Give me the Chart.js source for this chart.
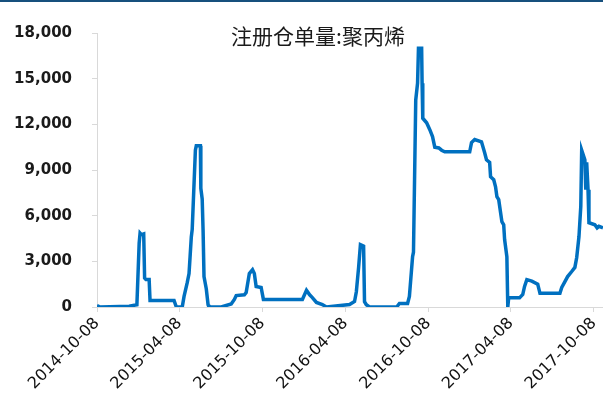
<!DOCTYPE html>
<html>
<head>
<meta charset="utf-8">
<script src="https://cdn.jsdelivr.net/npm/chart.js@4.4.1/dist/chart.umd.min.js"></script>
<style>
  html, body { margin: 0; padding: 0; background: #fff; }
  #wrap { width: 603px; height: 407px; position: relative; }
</style>
</head>
<body>
<div id="wrap"><canvas id="chart"></canvas></div>
<script>
const chartTitle = "注册仓单量:聚丙烯";

const dates = [
  "2014-10-08", "2014-10-15", "2014-12-18", "2015-01-04", "2015-01-09", "2015-01-11",
  "2015-01-14", "2015-01-19", "2015-01-21", "2015-01-24", "2015-01-31", "2015-02-02",
  "2015-03-27", "2015-04-01", "2015-04-14", "2015-04-18", "2015-04-25", "2015-04-29",
  "2015-05-04", "2015-05-06", "2015-05-13", "2015-05-15", "2015-05-24", "2015-05-25",
  "2015-05-28", "2015-05-30", "2015-06-01", "2015-06-06", "2015-06-10", "2015-06-12",
  "2015-07-09", "2015-07-31", "2015-08-07", "2015-08-11", "2015-08-29", "2015-09-02",
  "2015-09-09", "2015-09-16", "2015-09-20", "2015-09-24", "2015-10-05", "2015-10-10",
  "2016-01-04", "2016-01-13", "2016-01-20", "2016-01-26", "2016-02-04", "2016-02-17",
  "2016-02-26", "2016-04-17", "2016-04-28", "2016-05-02", "2016-05-07", "2016-05-11",
  "2016-05-18", "2016-05-20", "2016-05-24", "2016-05-31", "2016-07-30", "2016-08-05",
  "2016-08-23", "2016-08-27", "2016-09-03", "2016-09-05", "2016-09-10", "2016-09-14",
  "2016-09-16", "2016-09-23", "2016-09-24", "2016-09-25", "2016-09-26", "2016-10-04",
  "2016-10-11", "2016-10-17", "2016-10-22", "2016-10-31", "2016-11-06", "2016-11-13",
  "2017-01-07", "2017-01-11", "2017-01-18", "2017-02-02", "2017-02-09", "2017-02-13",
  "2017-02-20", "2017-02-22", "2017-03-01", "2017-03-05", "2017-03-08", "2017-03-12",
  "2017-03-19", "2017-03-23", "2017-03-25", "2017-03-30", "2017-04-01", "2017-04-03",
  "2017-04-27", "2017-05-04", "2017-05-08", "2017-05-13", "2017-05-24", "2017-06-06",
  "2017-06-11", "2017-07-25", "2017-07-29", "2017-08-05", "2017-08-11", "2017-08-20",
  "2017-08-27", "2017-08-31", "2017-09-05", "2017-09-09", "2017-09-11", "2017-09-18",
  "2017-09-20", "2017-09-22", "2017-09-25", "2017-09-27", "2017-10-10", "2017-10-15",
  "2017-10-19", "2017-10-28"
];

const values = [
  100, 0, 50, 150, 4200, 4850,
  4750, 4800, 1900, 1800, 1800, 420,
  420, 0, 0, 700, 1600, 2200,
  4600, 5100, 10300, 10600, 10600, 7800,
  7100, 5000, 2000, 1200, 150, 0,
  0, 200, 500, 750, 800, 950,
  2200, 2450, 2200, 1350, 1280, 500,
  500, 1100, 800, 620, 300, 160,
  0, 160, 360, 1000, 2600, 4100,
  4000, 350, 150, 0, 0, 230,
  230, 700, 3300, 3600, 13600, 14700,
  17000, 17000, 14700, 14400, 12400, 12100,
  11650, 11200, 10500, 10450, 10300, 10200,
  10200, 10800, 11000, 10850, 10130, 9670,
  9500, 8560, 8360, 7900, 7250, 7050,
  5600, 5400, 4430, 3300, 0, 600,
  600, 820, 1350, 1800, 1700, 1500,
  900, 900, 1280, 1670, 2000, 2330,
  2600, 3250, 4630, 6600, 10300, 9670,
  7700, 9500, 7700, 5540, 5400, 5200,
  5300, 5200
];

const xTickLabels = [
  "2014-10-08", "2015-04-08", "2015-10-08", "2016-04-08",
  "2016-10-08", "2017-04-08", "2017-10-08"
];

const yMin = 0;
const yMax = 18000;
const yStep = 3000;

function toMs(s) {
  const p = s.split("-").map(Number);
  return Date.UTC(p[0], p[1] - 1, p[2]);
}

function fmtDate(ms) {
  const d = new Date(ms);
  const mm = String(d.getUTCMonth() + 1).padStart(2, "0");
  const dd = String(d.getUTCDate()).padStart(2, "0");
  return d.getUTCFullYear() + "-" + mm + "-" + dd;
}

const points = dates.map((d, i) => ({ x: toMs(d), y: values[i] }));

const frame = {
  id: "frame",
  afterDraw(chart) {
    const ctx = chart.ctx;
    ctx.save();
    ctx.fillStyle = "#17507d";
    ctx.fillRect(0, 0, chart.width, 2);
    ctx.fillStyle = "#1a1a1a";
    ctx.font = '21px "Noto Sans CJK SC"';
    ctx.textAlign = "center";
    ctx.textBaseline = "middle";
    ctx.fillText(chartTitle, 318, 36);
    ctx.restore();
  }
};

new Chart(document.getElementById("chart"), {
  type: "line",
  data: {
    datasets: [
      {
        data: points,
        borderColor: "#0070c0",
        borderWidth: 3.5,
        pointRadius: 0,
        tension: 0,
        fill: false,
      },
    ],
  },
  options: {
    responsive: true,
    maintainAspectRatio: false,
    animation: false,
    layout: { padding: { top: 33, right: 0, left: 0, bottom: 0 } },
    plugins: {
      legend: { display: false },
      tooltip: { enabled: false },
    },
    scales: {
      x: {
        type: "linear",
        min: toMs(dates[0]),
        max: toMs(dates[dates.length - 1]),
        afterBuildTicks: (scale) => {
          scale.ticks = xTickLabels.map((t) => ({ value: toMs(t) }));
        },
        afterFit: (scale) => {
          scale.height = 100;
          scale.paddingRight = 0;
        },
        grid: {
          drawOnChartArea: false,
          drawTicks: true,
          tickLength: 5,
          color: "#d9d9d9",
        },
        border: { color: "#d9d9d9", width: 1 },
        ticks: {
          autoSkip: false,
          maxRotation: 45,
          minRotation: 45,
          padding: 2,
          color: "#111",
          font: { family: "DejaVu Sans", size: 16 },
          callback: (v) => fmtDate(v),
        },
      },
      y: {
        min: yMin,
        max: yMax,
        afterBuildTicks: (scale) => {
          const t = [];
          for (let v = yMin; v <= yMax; v += yStep) t.push({ value: v });
          scale.ticks = t;
        },
        afterFit: (scale) => {
          scale.width = 97;
        },
        grid: {
          drawOnChartArea: false,
          drawTicks: true,
          tickLength: 5,
          color: "#d9d9d9",
        },
        border: { color: "#d9d9d9", width: 1 },
        ticks: {
          padding: 20,
          color: "#1a1a1a",
          font: { family: "DejaVu Sans", size: 15, weight: "bold" },
          callback: (v) => v.toLocaleString("en-US"),
        },
      },
    },
  },
  plugins: [frame],
});
</script>
</body>
</html>
